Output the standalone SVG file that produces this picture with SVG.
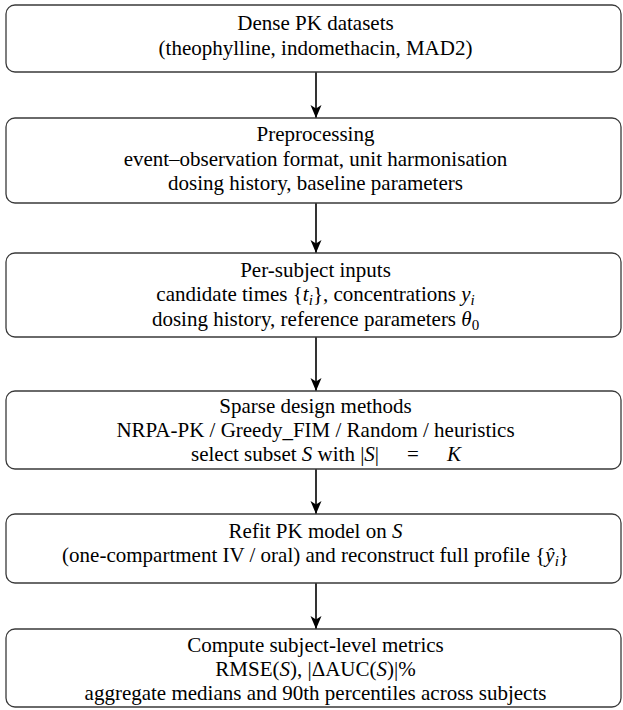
<svg xmlns="http://www.w3.org/2000/svg" width="623" height="710" viewBox="0 0 623 710">
<defs>
<style>
.box{fill:#fff;stroke:#3a3a3a;stroke-width:1.3}
.t text{font-family:"Liberation Serif","Times New Roman",serif;font-size:21px;fill:#000;text-anchor:middle}
.t text.st{text-anchor:start}
.m{font-style:italic}
.sub{font-size:15px}
.conn line{stroke:#000;stroke-width:1.6;marker-end:url(#ah)}
</style>
<marker id="ah" markerUnits="userSpaceOnUse" viewBox="0 0 14 12" refX="13" refY="6" markerWidth="14" markerHeight="12" orient="auto">
<path d="M0,0.5 L13,6 L0,11.5 L3.5,6 Z" fill="#000"/>
</marker>
</defs>
<rect width="623" height="710" fill="#fff"/>
<g class="conn">
<line x1="316" y1="72" x2="316" y2="118"/>
<line x1="316" y1="203" x2="316" y2="253"/>
<line x1="316" y1="337" x2="316" y2="391"/>
<line x1="316" y1="469" x2="316" y2="514"/>
<line x1="316" y1="583" x2="316" y2="629"/>
</g>
<g class="t">
<g id="n1">
<rect class="box" x="6" y="5" width="615" height="67" rx="9"/>
<text x="315.5" y="30">Dense PK datasets</text>
<text x="315.5" y="55">(theophylline, indomethacin, MAD2)</text>
</g>
<g id="n2">
<rect class="box" x="6" y="118" width="615" height="85" rx="9"/>
<text x="315.5" y="141">Preprocessing</text>
<text x="315.5" y="166">event–observation format, unit harmonisation</text>
<text x="315.5" y="190">dosing history, baseline parameters</text>
</g>
<g id="n3">
<rect class="box" x="6" y="253" width="615" height="84" rx="9"/>
<text x="315.5" y="277">Per-subject inputs</text>
<text x="315.5" y="301">candidate times {<tspan class="m">t</tspan><tspan class="m sub" dy="4">i</tspan><tspan dy="-4">}, concentrations </tspan><tspan class="m">y</tspan><tspan class="m sub" dy="4">i</tspan></text>
<text x="315.5" y="326">dosing history, reference parameters <tspan class="m">θ</tspan><tspan class="sub" dy="4">0</tspan></text>
</g>
<g id="n4">
<rect class="box" x="6" y="391" width="615" height="78" rx="9"/>
<text x="315.5" y="413">Sparse design methods</text>
<text x="315.5" y="437">NRPA-PK / Greedy_FIM / Random / heuristics</text>
<text class="st" x="191" y="461">select subset <tspan class="m">S</tspan> with |<tspan class="m">S</tspan>|<tspan dx="28">=</tspan><tspan class="m" dx="28">K</tspan></text>
</g>
<g id="n5">
<rect class="box" x="6" y="514" width="615" height="69" rx="9"/>
<text x="315.5" y="538">Refit PK model on <tspan class="m">S</tspan></text>
<text x="315.5" y="562">(one-compartment IV / oral) and reconstruct full profile {<tspan class="m">ŷ</tspan><tspan class="m sub" dy="4">i</tspan><tspan dy="-4">}</tspan></text>
</g>
<g id="n6">
<rect class="box" x="6" y="629" width="615" height="78" rx="9"/>
<text x="315.5" y="652">Compute subject-level metrics</text>
<text x="315.5" y="676">RMSE(<tspan class="m">S</tspan>), |ΔAUC(<tspan class="m">S</tspan>)|%</text>
<text x="315.5" y="700">aggregate medians and 90th percentiles across subjects</text>
</g>
</g>
</svg>
